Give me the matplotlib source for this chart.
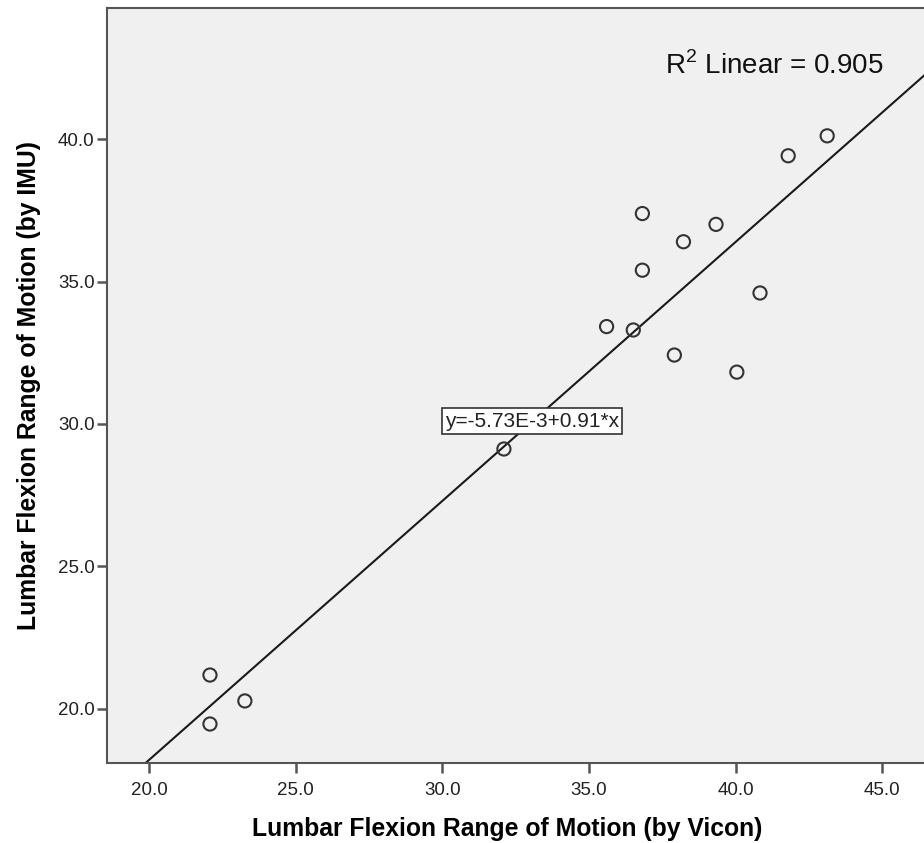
import numpy as np
import matplotlib.pyplot as plt

plt.rcParams['font.family'] = ['Liberation Sans', 'DejaVu Sans']
plt.rcParams['mathtext.fontset'] = 'custom'
plt.rcParams['mathtext.rm'] = 'Liberation Sans'

# Lumbar flexion ROM, Vicon vs IMU (degrees)
vicon = [22.08, 22.08, 23.27, 32.10, 35.60, 36.51, 36.82, 36.82, 37.91,
         38.22, 39.33, 40.04, 40.83, 41.79, 43.12]
imu = [21.18, 19.46, 20.27, 29.12, 33.42, 33.30, 37.39, 35.40, 32.42,
       36.40, 37.01, 31.82, 34.60, 39.42, 40.12]

intercept = -5.73e-3
slope = 0.91
r2 = 0.905
ticks = [20.0, 25.0, 30.0, 35.0, 40.0, 45.0]

fig = plt.figure(figsize=(9.24, 8.43), dpi=100)
ax = fig.add_axes([0.1158, 0.0949, 0.8842, 0.8956])
ax.set_facecolor('#f0f0f0')

xlim = (18.57, 46.42)
ylim = (18.09, 44.61)

# fit line
xs = np.array(xlim)
ax.plot(xs, intercept + slope * xs, color='#1a1a1a', lw=1.5, zorder=2)

ax.scatter(vicon, imu, s=90, facecolors='none', edgecolors='#333333',
           linewidths=1.5, zorder=3)

ax.set_xlim(xlim)
ax.set_ylim(ylim)
ax.set_xticks(ticks)
ax.set_xticklabels(['%.1f' % t for t in ticks])
ax.set_yticks(ticks[:-1])
ax.set_yticklabels(['%.1f' % t for t in ticks[:-1]])
ax.tick_params(direction='out', length=7.5, width=1.8, color='#555555',
               labelsize=13.5, labelcolor='#222222')
ax.tick_params(axis='y', pad=1.5)
ax.tick_params(axis='x', pad=6)

for side in ['left', 'bottom', 'top']:
    ax.spines[side].set_color('#555555')
    ax.spines[side].set_linewidth(1.5)
ax.spines['right'].set_visible(False)

ax.set_xlabel('Lumbar Flexion Range of Motion (by Vicon)', fontsize=17.8,
              fontweight='bold')
ax.xaxis.set_label_coords(0.49, -0.072)
ax.set_ylabel('Lumbar Flexion Range of Motion (by IMU)', fontsize=17.8,
              fontweight='bold')
ax.yaxis.set_label_coords(-0.081, 0.5)

ax.text(0.951, 0.924, r'R$^2$ Linear = %.3f' % r2, transform=ax.transAxes,
        fontsize=20, ha='right', va='center', color='#111111')

ax.text(33.06, 30.10, 'y=-5.73E-3+0.91*x', fontsize=15, ha='center', va='center',
        color='#222222', zorder=4,
        bbox=dict(boxstyle='square,pad=0.15', facecolor='white',
                  edgecolor='#333333', linewidth=1.2))

fig.savefig('out.png', dpi=100)
